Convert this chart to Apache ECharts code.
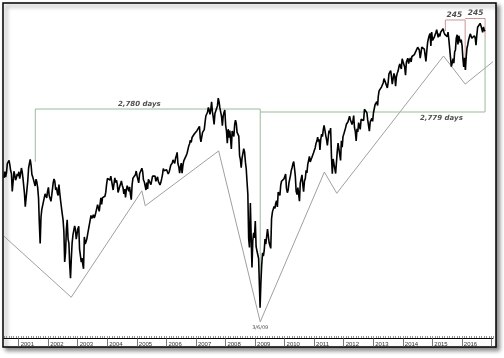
<!DOCTYPE html>
<html>
<head>
<meta charset="utf-8">
<script src="https://cdn.jsdelivr.net/npm/echarts@6/dist/echarts.min.js"></script>
<style>
html,body{margin:0;padding:0;background:#fff;}
#chart{width:504px;height:358px;}
</style>
</head>
<body>
<div id="chart"></div>
<script>
// Dow Jones Industrial Average (log scale), three samples per month (days 4, 14, 24)
const sampleDays = [4, 14, 24];
const dj2000 = [10560,10810,10590, 10770,11130,11190, 11260,11090,10850, 10720,10050,10390, 10820,10680,10470, 10560,10720,10640];
const dj2001 = [10800,10530,10700, 10950,10800,10530, 10560,9970,9500, 9490,10130,10450, 10950,10880,11300, 11060,10690,10600, 10570,10540,10250, 10510,10400,10200, 9800,8920,8300, 9130,9400,9340, 9440,9820,9960, 9890,9810,10040];
const dj2002 = [10200,9890,9800, 9690,9900,9970, 10370,10520,10430, 10100,10200,9990, 9900,10300,9990, 9700,9470,9250, 9050,8680,7750, 8040,8740,9050, 8430,8310,7680, 7300,7850,8320, 8570,8540,8850, 8740,8430,8450];
const dj2003 = [8770,8840,8130, 7930,7750,7860, 7700,7560,8500, 8280,8350,8440, 8590,8650,8600, 9040,9200,9100, 9070,9220,9110, 9190,9310,9350, 9570,9570,9340, 9570,9810,9580, 9820,9770,9750, 9870,10020,10310];
const dj2004 = [10540,10590,10570, 10470,10630,10570, 10590,10100,10050, 10560,10380,10470, 10320,10010,9960, 10240,10330,10440, 10280,10190,9960, 10130,9830,10100, 10260,10320,10050, 10220,9940,9750, 10310,10550,10520, 10590,10680,10830];
const dj2005 = [10630,10560,10370, 10720,10790,10750, 10940,10800,10480, 10400,10250,10100, 10380,10140,10500, 10460,10520,10300, 10370,10630,10600, 10610,10630,10430, 10450,10600,10420, 10440,10290,10380, 10530,10690,10930, 10840,10880,10870];
const dj2006 = [10880,10960,10710, 10790,10920,11060, 11020,11150,11280, 11200,11140,11350, 11450,11600,11120, 10990,10750,10990, 11150,10740,11050, 11240,11230,11290, 11470,11560,11570, 11870,11960,12130, 12030,12250,12280, 12280,12420,12400];
const dj2007 = [12480,12560,12620, 12650,12760,12220, 12050,12130,12480, 12530,12610,12950, 13260,13350,13440, 13680,13550,13340, 13580,13970,13470, 13180,12850,13380, 13450,13440,13760, 14160,13980,13670, 13600,13230,12800, 13250,13430,13550];
const dj2008 = [12800,12540,12000, 12630,12240,12570, 12210,11750,12550, 12610,12300,12850, 13060,12900,12480, 12390,12310,11450, 11290,10960,11350, 11280,11760,11630, 11190,10920,10400, 9950,8450,8180, 9625,8500,7600, 8380,8630,8470];
const dj2009 = [9015,8200,8080, 7960,7850,7110, 6550,7170,7660, 8020,7920,8080, 8430,8280,8280, 8750,8800,8320, 8280,8150,9090, 9320,9320,9510, 9440,9630,9710, 9490,10020,9970, 9900,10270,10430, 10390,10500,10520];
const dj2010 = [10580,10710,10170, 10000,10100,10370, 10440,10640,10840, 10970,11120,11210, 10930,10620,10050, 9930,10190,10150, 9690,10370,10420, 10680,10300,10040, 10450,10530,10860, 10750,11090,11130, 11430,11200,11190, 11380,11480,11570];
const dj2011 = [11690,11790,11980, 12090,12270,12070, 12170,11700,12170, 12400,12290,12600, 12810,12600,12360, 12150,11900,11930, 12570,12440,12680, 11380,10720,11320, 11240,11250,10730, 10660,11640,12000, 11980,12080,11260, 12100,11820,12290];
const dj2012 = [12420,12420,12680, 12860,12880,12980, 12960,13250,13080, 13070,12850,13000, 13280,12700,12530, 12100,12650,12500, 12940,12780,12620, 13100,13170,13160, 13040,13590,13560, 13610,13420,13080, 13110,12540,12970, 12970,13140,13000];
const dj2013 = [13430,13510,13830, 13880,13970,13780, 14250,14540,14450, 14600,14760,14680, 14970,15210,15300, 14960,15070,14700, 14990,15480,15540, 15660,15340,14900, 14930,15500,15330, 14800,15300,15510, 15640,15880,16060, 15890,15760,16360];
const dj2014 = [16470,16370,15880, 15400,16150,16210, 16400,16070,16280, 16410,16170,16500, 16530,16610,16610, 16740,16780,16820, 17070,17140,16900, 16400,16710,17080, 17070,17200,16950, 17010,16200,16800, 17380,17630,17820, 17960,17150,18050];
const dj2015 = [17500,17430,17700, 17670,18020,18210, 18100,17700,17940, 17760,18040,18080, 18070,18280,18040, 17900,17790,18000, 17750,18050,17570, 17550,17480,15900, 16100,16370,16100, 16780,16920,17650, 17870,17250,17810, 17850,17370,17550];
const dj2016 = [17150,16380,15880, 16420,15700,16480, 17010,17230,17520, 17740,17930,17980, 17650,17540,17710, 17810,17670,17200, 17840,18370,18490, 18350,18640,18480, 18490,18030,18390, 18170,18100];
const djYears = [[2000,6,dj2000],[2001,0,dj2001],[2002,0,dj2002],[2003,0,dj2003],[2004,0,dj2004],[2005,0,dj2005],[2006,0,dj2006],[2007,0,dj2007],[2008,0,dj2008],[2009,0,dj2009],[2010,0,dj2010],[2011,0,dj2011],[2012,0,dj2012],[2013,0,dj2013],[2014,0,dj2014],[2015,0,dj2015],[2016,0,dj2016]];

// x-axis tick labels shown in the picture
const yearLabels = ['2001','2002','2003','2004','2005','2006','2007','2008','2009','2010','2011','2012','2013','2014','2015','2016'];

// axis range
const xMinDate = '2000-07-04';
const xMaxDate = '2017-01-20';
const yMin = 5862, yMax = 19938;

// grey trend zigzag
const zigDates  = ['2000-07-04','2002-10-13','2005-03-04','2005-04-15','2007-10-09','2009-03-06','2011-05-08','2011-10-08','2015-05-19','2016-02-11','2017-01-20'];
const zigValues = [8520, 6810, 10070, 9530, 11660, 6220, 10790, 9980, 16530, 14910, 16190];

// green day-count brackets
const greenDates  = ['2001-07-26','2001-07-26','2009-03-06','2009-03-06', null, '2009-03-06','2016-10-14','2016-10-14'];
const greenValues = [11200, 13603, 13603, 6800, null, 13454, 13454, 17725];

// red 245-day brackets
const redDates  = ['2015-06-11','2015-06-11','2016-02-11','2016-02-11', null, '2016-02-11','2016-10-14','2016-10-14'];
const redValues = [18121, 18870, 18870, 15700, null, 18970, 18970, 17725];

// annotations
const noteTexts  = ['2,780 days', '2,779 days', '3/6/09', '245', '245'];
const noteDates  = ['2005-02-01', '2015-04-23', '2009-03-06', '2015-10-01', '2016-06-18'];
const noteValues = [13856, 13160, 6081, 19219, 19362];
const noteSizes  = [7, 7, 5, 7.5, 7.5];
const noteBold   = [true, true, false, true, true];

function ts(s) { const p = s.split('-'); return new Date(+p[0], +p[1]-1, +p[2]).getTime(); }

const priceData = [];
djYears.forEach(([yr, m0, arr]) => {
  arr.forEach((v, i) => {
    const m = m0 + Math.floor(i / 3);
    priceData.push([new Date(yr, m, sampleDays[i % 3]).getTime(), v]);
  });
});
const zigData = zigDates.map((d, i) => [ts(d), zigValues[i]]);
const pairData = (ds, vs) => ds.map((d, i) => d === null ? [null, null] : [ts(d), vs[i]]);
const greenData = pairData(greenDates, greenValues);
const redData = pairData(redDates, redValues);
const noteData = noteTexts.map((t, i) => ({
  name: t,
  value: [ts(noteDates[i]), noteValues[i]],
  label: {
    show: true, position: 'inside', formatter: t,
    fontSize: noteSizes[i],
    fontWeight: noteBold[i] ? 'bold' : 'normal',
    fontStyle: noteBold[i] ? 'italic' : 'normal',
    fontFamily: 'DejaVu Sans', color: '#222'
  }
}));

const chart = echarts.init(document.getElementById('chart'), null, {renderer: 'canvas'});
const yearFmt = v => {
  const d = new Date(v);
  const y = String(d.getFullYear());
  return (d.getMonth() === 0 && d.getDate() === 1 && yearLabels.indexOf(y) >= 0) ? y : '';
};

chart.setOption({
  animation: false,
  backgroundColor: '#fff',
  graphic: [{
    type: 'rect', z: -10, silent: true,
    shape: {x: 3, y: 3, width: 493, height: 344},
    style: {fill: '#fff', stroke: '#000', lineWidth: 1.5, shadowBlur: 4, shadowOffsetX: 3, shadowOffsetY: 3, shadowColor: 'rgba(0,0,0,0.45)'}
  }],
  grid: {left: 4, right: 11, top: 5, bottom: 20},
  xAxis: [{
    type: 'time', min: ts(xMinDate), max: ts(xMaxDate), splitNumber: 17,
    axisLine: {show: true, lineStyle: {color: '#000', width: 1}},
    axisTick: {show: true, length: 9, lineStyle: {color: '#555', width: 0.8}},
    splitLine: {show: false},
    axisLabel: {formatter: yearFmt, align: 'left', margin: 3, padding: [0,0,0,2], fontSize: 6, color: '#333', fontFamily: "'Liberation Sans Narrow', 'Liberation Sans', Arial"}
  }, {
    type: 'time', min: ts(xMinDate), max: ts(xMaxDate), splitNumber: 200, position: 'bottom',
    axisLine: {show: false},
    axisTick: {show: true, inside: true, length: 2, lineStyle: {color: '#666', width: 0.7}},
    axisLabel: {show: false},
    splitLine: {show: false}
  }],
  yAxis: {type: 'log', logBase: 10, min: yMin, max: yMax, show: false, splitLine: {show: false}},
  series: [
    {type: 'line', data: zigData, showSymbol: false, lineStyle: {color: '#a0a0a0', width: 1}, z: 3, silent: true},
    {type: 'line', data: greenData, showSymbol: false, connectNulls: false, lineStyle: {color: '#9cbb9c', width: 1}, z: 3, silent: true},
    {type: 'line', data: redData, showSymbol: false, connectNulls: false, lineStyle: {color: '#c99595', width: 1}, z: 3, silent: true},
    {type: 'line', data: priceData, showSymbol: false, sampling: 'none', lineStyle: {color: '#000', width: 1.6}, z: 5, silent: true},
    {type: 'scatter', data: noteData, symbolSize: 0, z: 6, silent: true}
  ]
});
</script>
</body>
</html>
